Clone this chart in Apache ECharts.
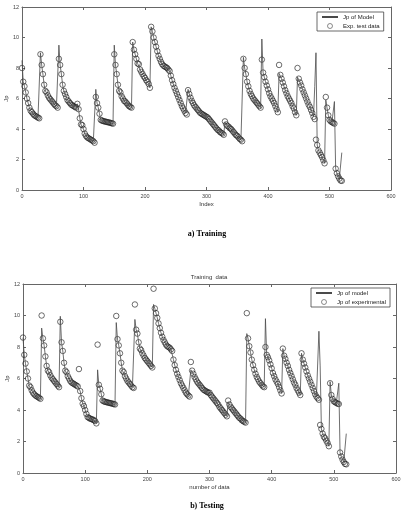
<!DOCTYPE html>
<html>
<head>
<meta charset="utf-8">
<script src="https://cdn.jsdelivr.net/npm/echarts@6/dist/echarts.min.js"></script>
<style>
html, body { margin: 0; padding: 0; background: #fff; }
#chart { width: 417px; height: 513px; }
</style>
</head>
<body>
<div id="chart"></div>
<script>
// samples are taken every 2nd index of the data set (0..520)
var sampleStep = 2;

// a) training: model output and measured Jp
var trainModel = [
	8.5, 7.1, 6.8, 6.4, 6.0, 5.7, 5.4, 5.2, 5.1, 5.0, 4.9, 4.85, 4.8, 4.75, 4.7,
	9.0, 8.2, 7.6, 6.9, 6.5, 6.4, 6.2, 6.05, 5.95, 5.85, 5.75, 5.65, 5.55, 5.5, 5.4,
	9.5, 8.2, 7.6, 6.9, 6.5, 6.3, 6.1, 5.9, 5.8, 5.7, 5.6, 5.55, 5.5, 5.45, 5.4,
	5.65, 5.3, 4.7, 4.3, 4.25, 4.0, 3.7, 3.55, 3.45, 3.4, 3.35, 3.3, 3.25, 3.2, 3.1,
	6.6, 5.7, 5.4, 5.0, 4.6, 4.55, 4.52, 4.5, 4.48, 4.46, 4.44, 4.42, 4.4, 4.38, 4.35,
	9.5, 8.2, 7.6, 6.9, 6.5, 6.4, 6.15, 6.0, 5.85, 5.8, 5.7, 5.6, 5.5, 5.45, 5.4,
	9.7, 9.2, 8.9, 8.6, 8.3, 8.25, 7.9, 7.75, 7.6, 7.45, 7.35, 7.2, 7.1, 6.95, 6.7,
	10.7, 10.4, 10.0, 9.7, 9.4, 9.1, 8.8, 8.6, 8.4, 8.25, 8.15, 8.1, 8.05, 8.0, 7.9,
	7.8, 7.5, 7.2, 6.95, 6.7, 6.5, 6.3, 6.1, 5.9, 5.7, 5.5, 5.35, 5.2, 5.05, 4.95,
	6.6, 6.3, 6.05, 5.85, 5.7, 5.55, 5.45, 5.35, 5.25, 5.15, 5.05, 5.0, 4.95, 4.9, 4.85,
	4.8, 4.75, 4.65, 4.55, 4.45, 4.35, 4.25, 4.15, 4.05, 3.95, 3.9, 3.8, 3.75, 3.7, 3.62,
	4.45, 4.3, 4.2, 4.15, 4.05, 4.0, 3.9, 3.8, 3.7, 3.6, 3.55, 3.45, 3.35, 3.3, 3.2,
	8.7, 8.0, 7.6, 7.1, 6.8, 6.5, 6.3, 6.15, 6.0, 5.9, 5.8, 5.7, 5.6, 5.5, 5.4,
	9.9, 7.7, 7.4, 7.1, 6.85, 6.6, 6.35, 6.15, 6.0, 5.85, 5.7, 5.5, 5.3, 5.1,
	7.65, 7.55, 7.3, 7.05, 6.8, 6.55, 6.35, 6.15, 6.0, 5.85, 5.7, 5.5, 5.35, 5.1, 4.9,
	7.4, 7.3, 7.05, 6.85, 6.6, 6.4, 6.2, 6.0, 5.8, 5.6, 5.45, 5.25, 5.05,
	4.8, 6.8,
	9.0, 2.95, 2.6, 2.45, 2.3, 2.15, 1.95, 1.75,
	5.9, 5.4, 4.9, 4.6, 4.5, 4.45, 4.4,
	5.8,
	1.4, 1.1, 0.9, 0.75, 0.62, 2.45
];
var trainExp = [
	8.0, 7.1, 6.8, 6.4, 6.0, 5.7, 5.4, 5.2, 5.1, 5.0, 4.9, 4.85, 4.8, 4.75, 4.7,
	8.9, 8.2, 7.6, 6.9, 6.5, 6.4, 6.2, 6.05, 5.95, 5.85, 5.75, 5.65, 5.55, 5.5, 5.4,
	8.6, 8.2, 7.6, 6.9, 6.5, 6.3, 6.1, 5.9, 5.8, 5.7, 5.6, 5.55, 5.5, 5.45, 5.4,
	5.65, 5.3, 4.7, 4.3, 4.25, 4.0, 3.7, 3.55, 3.45, 3.4, 3.35, 3.3, 3.25, 3.2, 3.1,
	6.1, 5.7, 5.4, 5.0, 4.6, 4.55, 4.52, 4.5, 4.48, 4.46, 4.44, 4.42, 4.4, 4.38, 4.35,
	8.9, 8.2, 7.6, 6.9, 6.5, 6.4, 6.15, 6.0, 5.85, 5.8, 5.7, 5.6, 5.5, 5.45, 5.4,
	9.7, 9.2, 8.9, 8.6, 8.3, 8.25, 7.9, 7.75, 7.6, 7.45, 7.35, 7.2, 7.1, 6.95, 6.7,
	10.7, 10.4, 10.0, 9.7, 9.4, 9.1, 8.8, 8.6, 8.4, 8.25, 8.15, 8.1, 8.05, 8.0, 7.9,
	7.8, 7.5, 7.2, 6.95, 6.7, 6.5, 6.3, 6.1, 5.9, 5.7, 5.5, 5.35, 5.2, 5.05, 4.95,
	6.55, 6.3, 6.05, 5.85, 5.7, 5.55, 5.45, 5.35, 5.25, 5.15, 5.05, 5.0, 4.95, 4.9, 4.85,
	4.8, 4.75, 4.65, 4.55, 4.45, 4.35, 4.25, 4.15, 4.05, 3.95, 3.9, 3.8, 3.75, 3.7, 3.62,
	4.5, 4.3, 4.2, 4.15, 4.05, 4.0, 3.9, 3.8, 3.7, 3.6, 3.55, 3.45, 3.35, 3.3, 3.2,
	8.6, 8.0, 7.6, 7.1, 6.8, 6.5, 6.3, 6.15, 6.0, 5.9, 5.8, 5.7, 5.6, 5.5, 5.4,
	8.55, 7.7, 7.4, 7.1, 6.85, 6.6, 6.35, 6.15, 6.0, 5.85, 5.7, 5.5, 5.3, 5.1,
	8.2, 7.55, 7.3, 7.05, 6.8, 6.55, 6.35, 6.15, 6.0, 5.85, 5.7, 5.5, 5.35, 5.1, 4.9,
	8.0, 7.3, 7.05, 6.85, 6.6, 6.4, 6.2, 6.0, 5.8, 5.6, 5.45, 5.25, 5.05,
	4.8, 4.65,
	3.3, 2.95, 2.6, 2.45, 2.3, 2.15, 1.95, 1.75,
	6.1, 5.4, 4.9, 4.6, 4.5, 4.45, 4.4,
	4.35,
	1.4, 1.1, 0.9, 0.75, 0.62, 0.6
];

// b) testing: model output and measured Jp
var testModel = [
	8.6, 7.5, 6.95, 6.45, 6.0, 5.55, 5.45, 5.25, 5.1, 5.0, 4.92, 4.87, 4.82, 4.77, 4.71,
	9.2, 8.55, 8.1, 7.4, 6.8, 6.5, 6.4, 6.2, 6.05, 5.95, 5.85, 5.75, 5.65, 5.55, 5.45,
	9.95, 8.3, 7.75, 7.0, 6.5, 6.4, 6.15, 6.0, 5.85, 5.75, 5.7, 5.65, 5.6, 5.55, 5.5,
	5.5, 5.2, 4.75, 4.4, 4.25, 4.0, 3.75, 3.55, 3.5, 3.45, 3.42, 3.4, 3.35, 3.3, 3.15,
	6.55, 5.6, 5.35, 5.0, 4.6, 4.55, 4.52, 4.5, 4.48, 4.46, 4.44, 4.42, 4.4, 4.38, 4.35,
	9.55, 8.5, 8.1, 7.6, 7.0, 6.5, 6.4, 6.15, 6.0, 5.85, 5.75, 5.65, 5.55, 5.45, 5.4,
	9.75, 9.1, 8.85, 8.3, 7.9, 7.8, 7.6, 7.45, 7.3, 7.2, 7.1, 7.0, 6.9, 6.8, 6.7,
	10.7, 10.45, 10.15, 9.85, 9.5, 9.2, 8.9, 8.65, 8.45, 8.3, 8.15, 8.05, 8.0, 7.95, 7.85,
	7.75, 7.2, 6.85, 6.55, 6.3, 6.1, 5.9, 5.7, 5.55, 5.4, 5.25, 5.1, 5.0, 4.92, 4.85,
	6.55, 6.5, 6.3, 6.1, 5.95, 5.8, 5.7, 5.6, 5.5, 5.4, 5.3, 5.25, 5.2, 5.15, 5.1,
	5.05, 4.95, 4.85, 4.75, 4.65, 4.55, 4.45, 4.35, 4.2, 4.1, 4.0, 3.9, 3.8, 3.7, 3.6,
	4.5, 4.35, 4.2, 4.1, 4.0, 3.9, 3.8, 3.7, 3.6, 3.5, 3.45, 3.35, 3.3, 3.25, 3.2,
	8.85, 8.55, 8.05, 7.65, 7.2, 6.85, 6.55, 6.3, 6.1, 5.95, 5.8, 5.7, 5.6, 5.5, 5.45,
	9.8, 7.5, 7.35, 7.15, 6.9, 6.65, 6.35, 6.15, 5.95, 5.8, 5.65, 5.45, 5.25, 5.05,
	7.9, 7.45, 7.25, 7.0, 6.8, 6.55, 6.35, 6.15, 5.95, 5.75, 5.6, 5.4, 5.25, 5.1, 4.95,
	7.6, 7.2, 6.95, 6.7, 6.45, 6.2, 6.0, 5.8, 5.6, 5.4, 5.2, 5.0, 4.85,
	4.75, 9.0,
	6.8, 2.8, 2.5, 2.3, 2.2, 2.05, 1.9, 1.7,
	5.8, 4.95, 4.7, 4.55, 4.5, 4.45, 4.4,
	5.7,
	1.3, 1.05, 0.85, 0.7, 0.58, 2.5
];
var testExp = [
	8.6, 7.5, 6.95, 6.45, 6.0, 5.55, 5.45, 5.25, 5.1, 5.0, 4.92, 4.87, 4.82, 4.77, 4.71,
	10.0, 8.55, 8.1, 7.4, 6.8, 6.5, 6.4, 6.2, 6.05, 5.95, 5.85, 5.75, 5.65, 5.55, 5.45,
	9.6, 8.3, 7.75, 7.0, 6.5, 6.4, 6.15, 6.0, 5.85, 5.75, 5.7, 5.65, 5.6, 5.55, 5.5,
	6.6, 5.2, 4.75, 4.4, 4.25, 4.0, 3.75, 3.55, 3.5, 3.45, 3.42, 3.4, 3.35, 3.3, 3.15,
	8.15, 5.6, 5.35, 5.0, 4.6, 4.55, 4.52, 4.5, 4.48, 4.46, 4.44, 4.42, 4.4, 4.38, 4.35,
	9.97, 8.5, 8.1, 7.6, 7.0, 6.5, 6.4, 6.15, 6.0, 5.85, 5.75, 5.65, 5.55, 5.45, 5.4,
	10.7, 9.1, 8.85, 8.3, 7.9, 7.8, 7.6, 7.45, 7.3, 7.2, 7.1, 7.0, 6.9, 6.8, 6.7,
	11.7, 10.45, 10.15, 9.85, 9.5, 9.2, 8.9, 8.65, 8.45, 8.3, 8.15, 8.05, 8.0, 7.95, 7.85,
	7.75, 7.2, 6.85, 6.55, 6.3, 6.1, 5.9, 5.7, 5.55, 5.4, 5.25, 5.1, 5.0, 4.92, 4.85,
	7.05, 6.5, 6.3, 6.1, 5.95, 5.8, 5.7, 5.6, 5.5, 5.4, 5.3, 5.25, 5.2, 5.15, 5.1,
	5.1, 4.95, 4.85, 4.75, 4.65, 4.55, 4.45, 4.35, 4.2, 4.1, 4.0, 3.9, 3.8, 3.7, 3.6,
	4.6, 4.35, 4.2, 4.1, 4.0, 3.9, 3.8, 3.7, 3.6, 3.5, 3.45, 3.35, 3.3, 3.25, 3.2,
	10.15, 8.55, 8.05, 7.65, 7.2, 6.85, 6.55, 6.3, 6.1, 5.95, 5.8, 5.7, 5.6, 5.5, 5.45,
	8.0, 7.5, 7.35, 7.15, 6.9, 6.65, 6.35, 6.15, 5.95, 5.8, 5.65, 5.45, 5.25, 5.05,
	7.9, 7.45, 7.25, 7.0, 6.8, 6.55, 6.35, 6.15, 5.95, 5.75, 5.6, 5.4, 5.25, 5.1, 4.95,
	7.6, 7.2, 6.95, 6.7, 6.45, 6.2, 6.0, 5.8, 5.6, 5.4, 5.2, 5.0, 4.85,
	4.75, 4.65,
	3.05, 2.8, 2.5, 2.3, 2.2, 2.05, 1.9, 1.7,
	5.7, 4.95, 4.7, 4.55, 4.5, 4.45, 4.4,
	4.38,
	1.3, 1.05, 0.85, 0.7, 0.58, 0.55
];

var xTicks = [0, 100, 200, 300, 400, 500, 600];
var yTicks = [0, 2, 4, 6, 8, 10, 12];

var legendTrain = ['Jp of Model', 'Exp. test data'];
var legendTest = ['Jp of model', 'Jp of experimental'];

var axisColor = '#666';
var textColor = '#333';
var circleColor = '#1a1a1a';
var sans = 'Liberation Sans, Arial, sans-serif';

function pairs(values) {
	var out = [];
	for (var i = 0; i < values.length; i++) {
		out.push([i * sampleStep, values[i]]);
	}
	return out;
}

function xAxisCfg(grid, pos, name) {
	return {
		type: 'value', gridIndex: grid, position: pos,
		min: xTicks[0], max: xTicks[xTicks.length - 1], interval: xTicks[1] - xTicks[0],
		name: name || '', nameLocation: 'middle', nameGap: 11, nameMoveOverlap: false,
		nameTextStyle: { fontSize: 6, color: textColor, fontFamily: sans },
		axisLine: { show: true, onZero: false, lineStyle: { color: axisColor, width: 1 } },
		axisTick: { show: true, inside: true, length: 3, lineStyle: { color: axisColor } },
		axisLabel: { show: pos === 'bottom', fontSize: 5.5, color: '#444', margin: 3, fontFamily: sans },
		splitLine: { show: false }
	};
}

function yAxisCfg(grid, pos, name) {
	return {
		type: 'value', gridIndex: grid, position: pos,
		min: yTicks[0], max: yTicks[yTicks.length - 1], interval: yTicks[1] - yTicks[0],
		name: name || '', nameLocation: 'middle', nameGap: 13, nameMoveOverlap: false,
		nameTextStyle: { fontSize: 6, color: textColor, fontFamily: sans },
		axisLine: { show: true, onZero: false, lineStyle: { color: axisColor, width: 1 } },
		axisTick: { show: true, inside: true, length: 3, lineStyle: { color: axisColor } },
		axisLabel: { show: pos === 'left', fontSize: 5.5, color: '#444', margin: 3, fontFamily: sans },
		splitLine: { show: false }
	};
}

function legendCfg(names, left, top) {
	return {
		data: [
			// the model entry is a plain line, without the marker ECharts adds by default
			{ name: names[0], itemStyle: { color: 'rgba(0,0,0,0)', borderWidth: 0, opacity: 0 } },
			{ name: names[1], itemStyle: { color: 'rgba(0,0,0,0)', borderColor: '#333', borderWidth: 0.7 } }
		],
		orient: 'vertical', left: left, top: top,
		itemWidth: 16, itemHeight: 5, itemGap: 3, padding: [2, 4],
		borderColor: '#444', borderWidth: 0.8, backgroundColor: '#fff',
		selectedMode: false,
		textStyle: { fontSize: 6, color: '#222', fontFamily: sans }
	};
}

function lineSeries(name, idx, values) {
	return {
		name: name, type: 'line', xAxisIndex: idx, yAxisIndex: idx,
		data: pairs(values), symbol: 'none', silent: true,
		lineStyle: { color: '#4a4a4a', width: 0.8 },
		itemStyle: { color: '#4a4a4a' }
	};
}

function circleSeries(name, idx, values) {
	return {
		name: name, type: 'scatter', xAxisIndex: idx, yAxisIndex: idx,
		data: pairs(values), symbol: 'circle', symbolSize: 5.5, silent: true,
		itemStyle: { color: 'rgba(0,0,0,0)', borderColor: circleColor, borderWidth: 0.8 }
	};
}

var chart = echarts.init(document.getElementById('chart'));
var option = {
	animation: false,
	backgroundColor: '#fff',
	grid: [
		{ left: 22, top: 7, width: 369, height: 183, outerBoundsMode: 'none' },
		{ left: 23, top: 284, width: 373, height: 189, outerBoundsMode: 'none' }
	],
	xAxis: [
		xAxisCfg(0, 'bottom', 'Index'),
		xAxisCfg(0, 'top'),
		xAxisCfg(1, 'bottom', 'number of data'),
		xAxisCfg(1, 'top')
	],
	yAxis: [
		yAxisCfg(0, 'left', 'Jp'),
		yAxisCfg(0, 'right'),
		yAxisCfg(1, 'left', 'Jp'),
		yAxisCfg(1, 'right')
	],
	legend: [
		legendCfg(legendTrain, 317, 12),
		legendCfg(legendTest, 311, 288)
	],
	series: [
		lineSeries(legendTrain[0], 0, trainModel),
		circleSeries(legendTrain[1], 0, trainExp),
		lineSeries(legendTest[0], 2, testModel),
		circleSeries(legendTest[1], 2, testExp)
	],
	graphic: [
		{ type: 'text', x: 207, y: 234, style: { text: 'a) Training', font: 'bold 8px "Liberation Serif", serif', fill: '#000', align: 'center', verticalAlign: 'middle' } },
		{ type: 'text', x: 209, y: 277, style: { text: 'Training  data', font: '6px "Liberation Sans", sans-serif', fill: textColor, align: 'center', verticalAlign: 'middle' } },
		{ type: 'text', x: 207, y: 506, style: { text: 'b) Testing', font: 'bold 8px "Liberation Serif", serif', fill: '#000', align: 'center', verticalAlign: 'middle' } }
	]
};
chart.setOption(option);
</script>
</body>
</html>
